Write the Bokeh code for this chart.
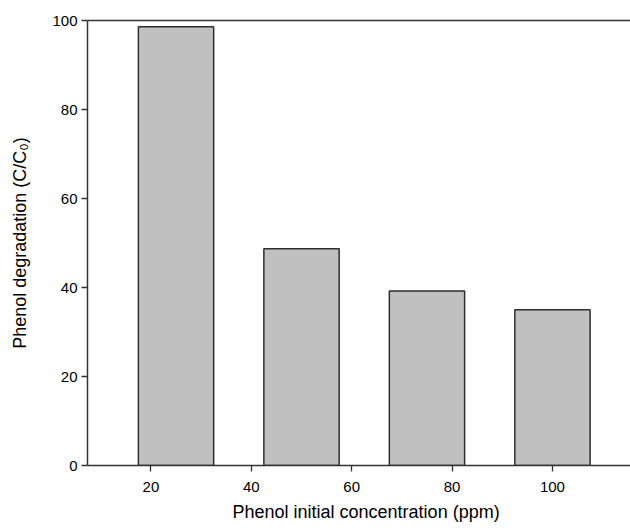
from bokeh.plotting import figure
from bokeh.models import Range1d, FixedTicker, LinearAxis, Title
from bokeh.embed import file_html
from bokeh.resources import INLINE

# Data
concentrations = [25, 50, 75, 100]          # ppm (bar centres)
degradation = [98.6, 48.7, 39.2, 35.0]      # C/C0 (%)
x_ticks = [20, 40, 60, 80, 100]
y_ticks = [0, 20, 40, 60, 80, 100]

FONT = "Liberation Sans"
AX = "#333333"

p = figure(width=630, height=531, output_backend="svg", toolbar_location=None,
           x_range=Range1d(7.36, 115.55), y_range=Range1d(0, 100),
           min_border_left=87, min_border_right=0, min_border_top=20,
           min_border_bottom=66, background_fill_color="white",
           border_fill_color="white", outline_line_color=None)

p.xgrid.visible = False
p.ygrid.visible = False

p.vbar(x=concentrations, top=degradation, width=15, bottom=0,
       fill_color="#c0c0c0", line_color="#2e2e2e", line_width=1.5)

for ax in (p.xaxis[0], p.yaxis[0]):
    ax.axis_line_color = AX
    ax.axis_line_width = 1.5
    ax.major_tick_line_color = AX
    ax.major_tick_line_width = 1.3
    ax.major_tick_in = 0
    ax.major_tick_out = 6
    ax.minor_tick_line_color = None
    ax.major_label_text_font = FONT
    ax.major_label_text_font_size = "15px"
    ax.major_label_text_color = "black"

p.xaxis[0].ticker = FixedTicker(ticks=x_ticks)
p.yaxis[0].ticker = FixedTicker(ticks=y_ticks)
p.xaxis[0].major_label_standoff = 10
p.yaxis[0].major_label_standoff = 4

p.yaxis[0].axis_label = "Phenol degradation (C/C\u2080)"
p.yaxis[0].axis_label_text_font = FONT
p.yaxis[0].axis_label_text_font_size = "18px"
p.yaxis[0].axis_label_text_font_style = "normal"
p.yaxis[0].axis_label_text_color = "black"
p.yaxis[0].axis_label_standoff = 19

top_axis = LinearAxis(ticker=FixedTicker(ticks=[]), axis_line_color=AX,
                      axis_line_width=1.5, major_tick_line_color=None,
                      minor_tick_line_color=None, major_label_text_font_size="0px")
p.add_layout(top_axis, "above")

xtitle = Title(text="Phenol initial concentration (ppm)", align="left",
               offset=145, standoff=15, vertical_align="top", text_font=FONT,
               text_font_size="18px", text_line_height=1.0,
               text_font_style="normal", text_color="black")
p.add_layout(xtitle, "below")

open("out.html", "w").write(file_html(p, INLINE))
